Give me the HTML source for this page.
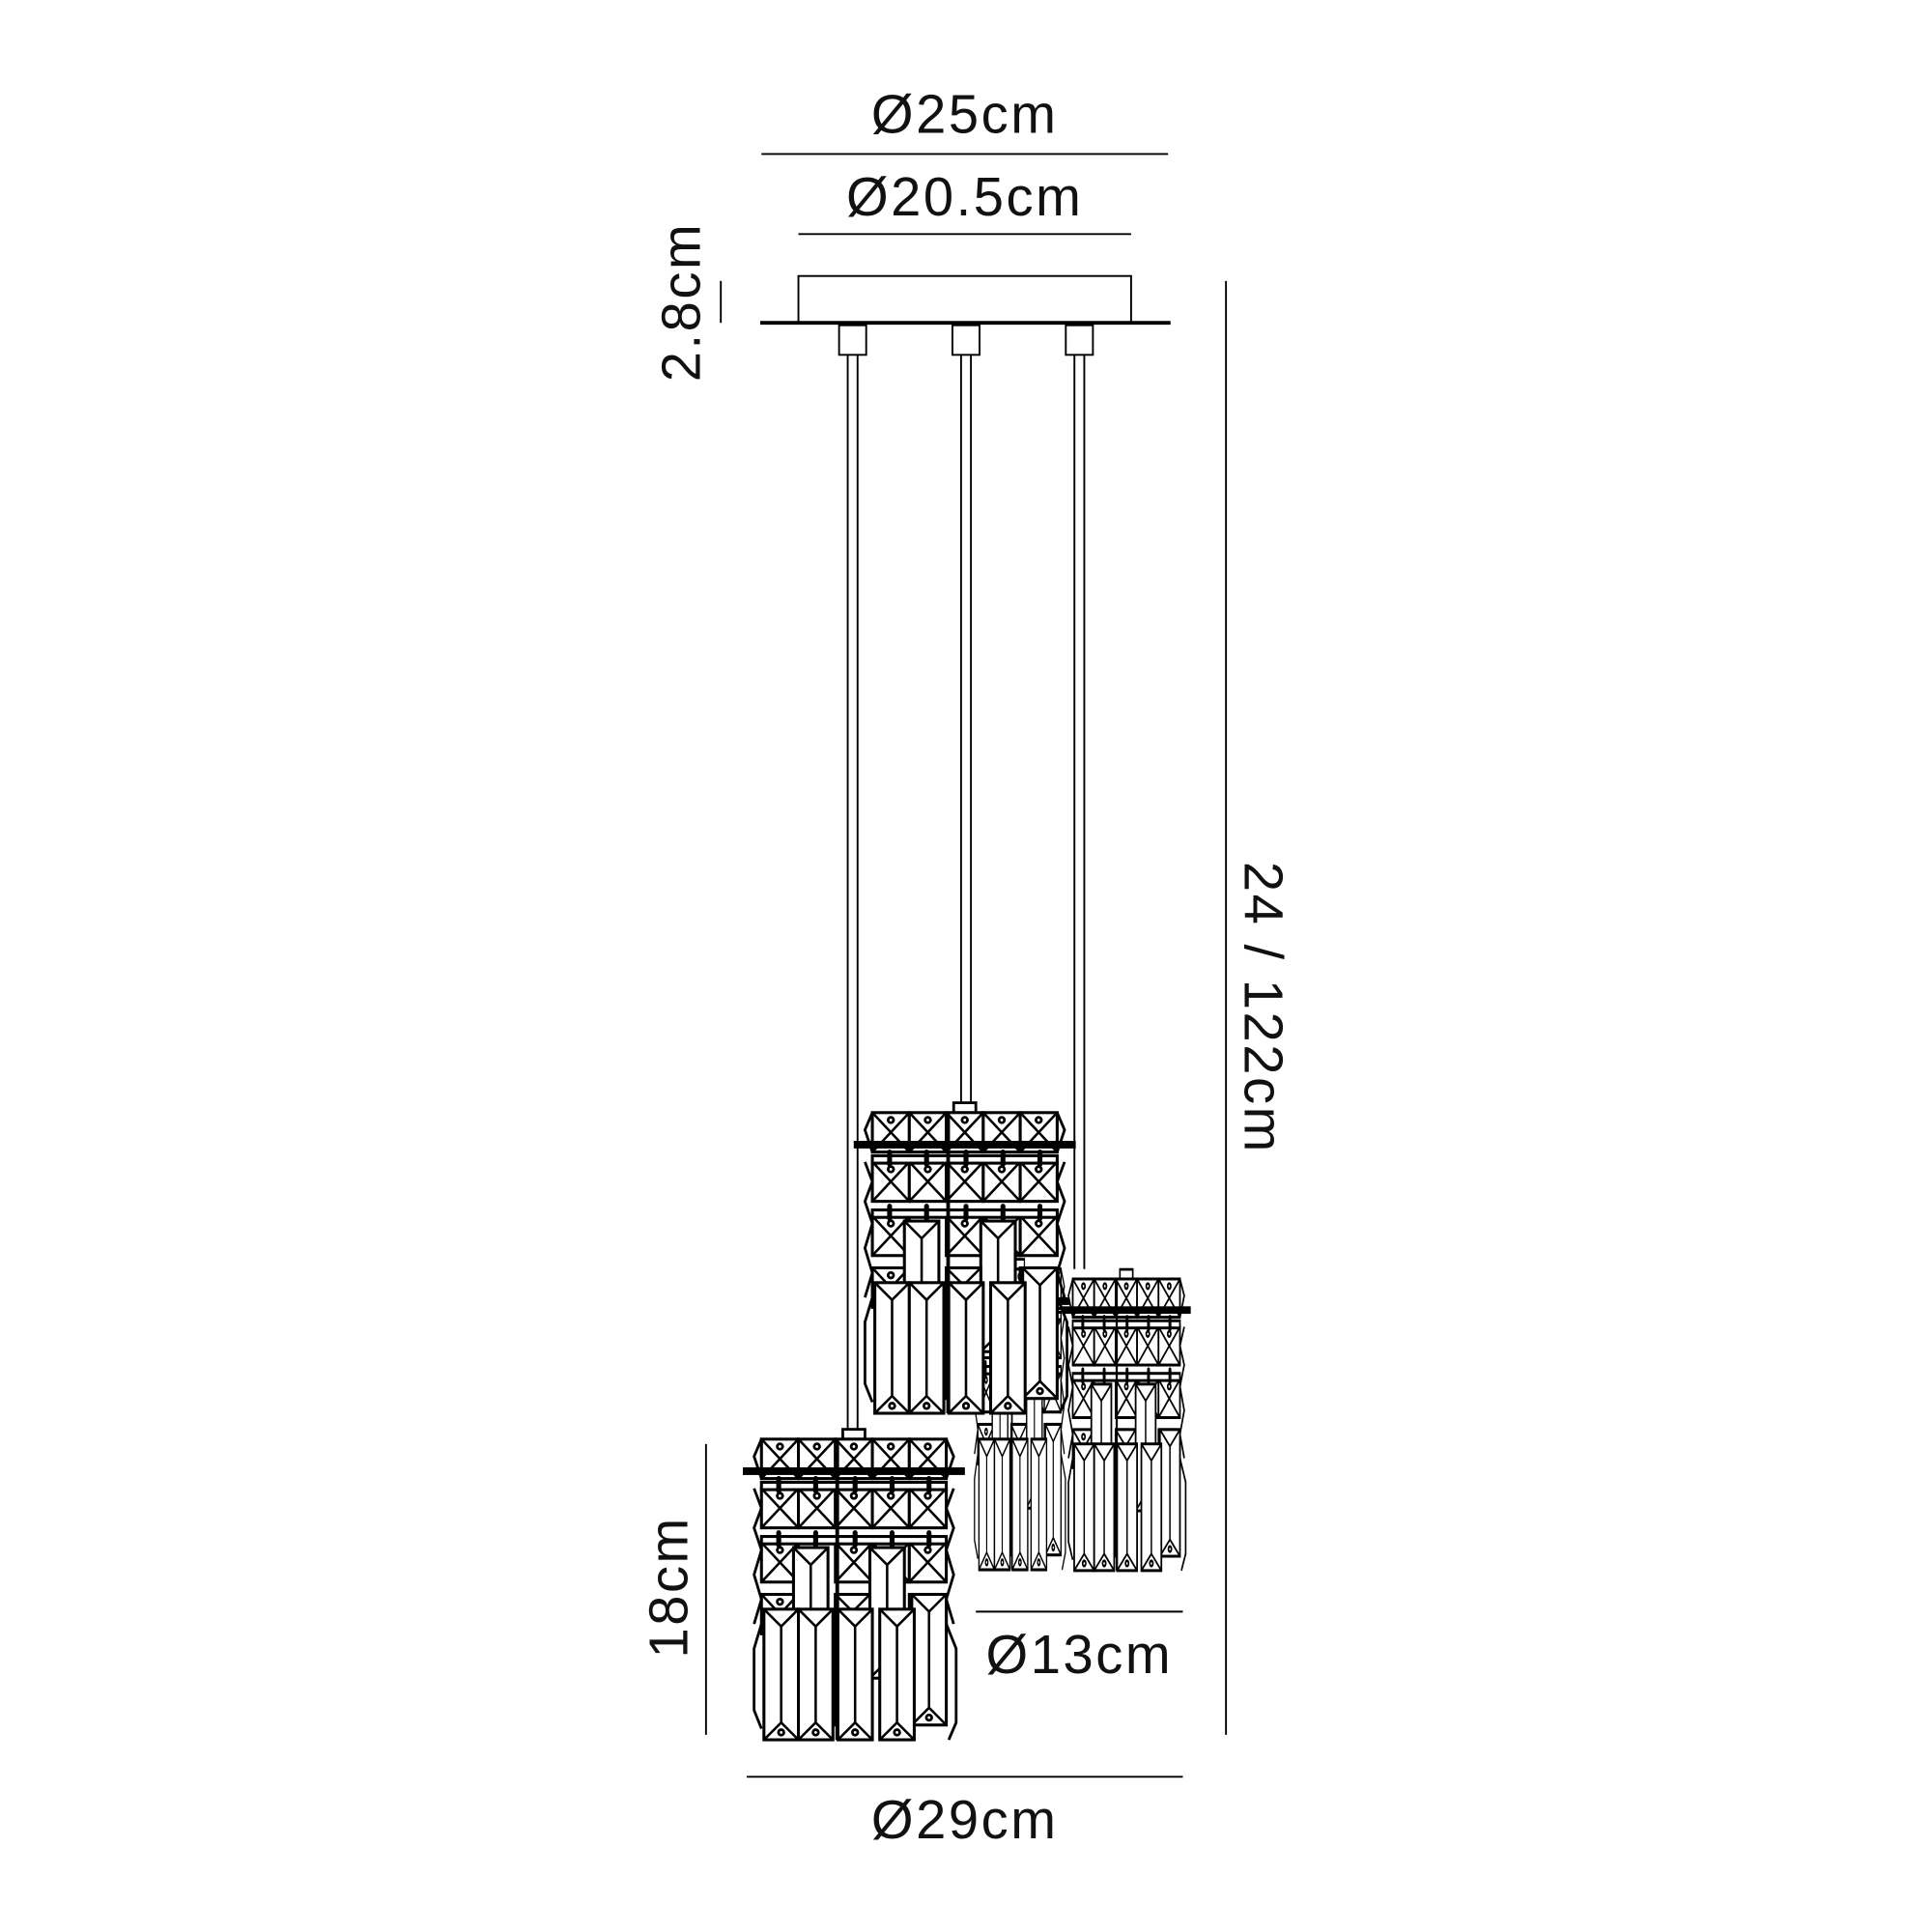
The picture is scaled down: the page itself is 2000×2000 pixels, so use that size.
<!DOCTYPE html>
<html><head><meta charset="utf-8"><style>
html,body{margin:0;padding:0;background:#fff}
svg{display:block}
text{font-family:"Liberation Sans",sans-serif;fill:#111;letter-spacing:2px}
</style></head><body>
<svg width="2000" height="2000" viewBox="0 0 1568 1568" xmlns="http://www.w3.org/2000/svg">
<defs>
<g id="xc"><rect x="0" y="0" width="30" height="32" fill="#fff" stroke="#000" stroke-width="2.4"/><path d="M0 0L30 32M30 0L0 32" stroke="#000" stroke-width="2"/><circle cx="15" cy="6" r="2.2"/></g>
<g id="pr"><rect x="0" y="0" width="28" height="106" fill="#fff" stroke="#000" stroke-width="2.4"/><path d="M0 0L14 14L28 0M14 14V92M0 106L14 92L28 106" fill="none" stroke="#000" stroke-width="2"/><circle cx="14" cy="100" r="2.2"/></g>
<g id="lamp" stroke="#000" fill="none" stroke-width="2.2">
<rect x="74" y="-8" width="18" height="8" fill="#fff"/>
<use href="#xc" x="8" y="0"/><use href="#xc" x="38" y="0"/><use href="#xc" x="68" y="0"/><use href="#xc" x="98" y="0"/><use href="#xc" x="128" y="0"/>
<path d="M8 0L2 14L8 32M158 0L164 14L158 32"/>
<use href="#xc" x="8" y="40"/><use href="#xc" x="38" y="40"/><use href="#xc" x="68" y="40"/><use href="#xc" x="98" y="40"/><use href="#xc" x="128" y="40"/>
<use href="#xc" x="8" y="84"/><use href="#xc" x="68" y="84"/><use href="#xc" x="98" y="84"/><use href="#xc" x="128" y="84"/>
<use href="#xc" x="8" y="126"/><use href="#xc" x="68" y="126"/><use href="#xc" x="128" y="126"/>
<path d="M2 40L8 56L2 72L8 90L2 110L8 130L2 150"/>
<path d="M164 40L158 56L164 72L158 90L164 110L158 130L164 150"/>
<rect x="-6" y="24" width="178" height="4" fill="#000"/>
<rect x="8" y="35" width="150" height="6" fill="#fff" stroke-width="2.4"/>
<rect x="8" y="79" width="150" height="6" fill="#fff" stroke-width="2.4"/>
<g fill="#000" stroke="none">
<rect x="20" y="30" width="4" height="14" rx="2"/><rect x="50" y="30" width="4" height="14" rx="2"/><rect x="82" y="30" width="4" height="14" rx="2"/><rect x="112" y="30" width="4" height="14" rx="2"/><rect x="142" y="30" width="4" height="14" rx="2"/>
<rect x="20" y="74" width="4" height="14" rx="2"/><rect x="50" y="74" width="4" height="14" rx="2"/><rect x="82" y="74" width="4" height="14" rx="2"/><rect x="112" y="74" width="4" height="14" rx="2"/><rect x="142" y="74" width="4" height="14" rx="2"/>
</g>
<use href="#pr" x="34" y="88"/>
<use href="#pr" x="96" y="88"/>
<use href="#pr" x="68" y="126"/>
<use href="#pr" x="130" y="126"/>
<use href="#pr" x="10" y="138"/>
<use href="#pr" x="38" y="138"/>
<use href="#pr" x="70" y="138"/>
<use href="#pr" x="104" y="138"/>
<path d="M8 150L2 170V220L8 235"/>
<path d="M158 150L166 170V230L160 244"/>
<rect x="68" y="0" width="3" height="244" fill="#000" stroke="none"/>
</g>
</defs>
<g stroke="#000" fill="none" stroke-width="1.5">
<line x1="618" y1="125" x2="948" y2="125"/>
<line x1="648" y1="190" x2="918" y2="190"/>
<rect x="648" y="224" width="270" height="38"/>
<line x1="617" y1="262" x2="950" y2="262" stroke-width="3"/>
<line x1="585" y1="228" x2="585" y2="262"/>
<rect x="681" y="264" width="22" height="24"/><rect x="773" y="264" width="22" height="24"/><rect x="865" y="264" width="22" height="24"/>
<path d="M688 288V1165M696 288V1165M780 288V895M788 288V895M872 288V1030M880 288V1030"/>
<line x1="995" y1="228" x2="995" y2="1408"/>
<line x1="573" y1="1172" x2="573" y2="1408"/>
<line x1="792" y1="1308" x2="960" y2="1308"/>
<line x1="606" y1="1442" x2="960" y2="1442"/>
</g>
<use href="#lamp" transform="translate(790,1030) scale(0.45,1)"/>
<use href="#lamp" transform="translate(866,1038) scale(0.58,0.97)"/>
<use href="#lamp" transform="translate(700,903)"/>
<use href="#lamp" transform="translate(610,1168)"/>
<g font-size="44" text-anchor="middle">
<text x="783" y="108">Ø25cm</text>
<text x="783" y="175">Ø20.5cm</text>
<text x="876" y="1358">Ø13cm</text>
<text x="783" y="1492">Ø29cm</text>
<text transform="translate(568,245) rotate(-90)">2.8cm</text>
<text transform="translate(558,1288) rotate(-90)">18cm</text>
<text transform="translate(1010,818) rotate(90)">24 / 122cm</text>
</g>
</svg>
</body></html>
